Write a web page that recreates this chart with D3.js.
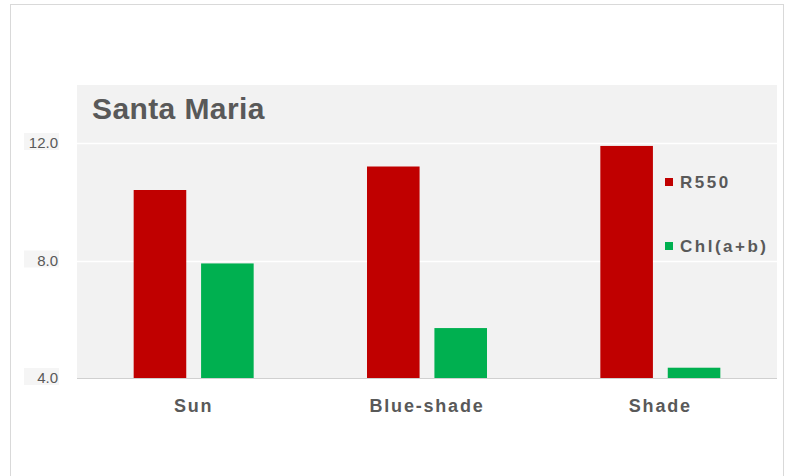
<!DOCTYPE html>
<html>
<head>
<meta charset="utf-8">
<script src="https://cdn.jsdelivr.net/npm/d3@7"></script>
<style>
  body { margin: 0; background: #fff; }
  text { font-family: "Liberation Sans", Arial, sans-serif; }
</style>
</head>
<body>
<div id="chart"></div>
<script>
// data
var categories = ["Sun", "Blue-shade", "Shade"];
var seriesNames = ["R550", "Chl(a+b)"];
var r550 = [10.4, 11.2, 11.9];
var chl = [7.9, 5.7, 4.35];
var tickValues = [4, 8, 12];

var colors = {"R550": "#c00000", "Chl(a+b)": "#00b050"};

var W = 787, H = 476;
var plot = {left: 77, right: 777, top: 85, bottom: 378};

var svg = d3.select("#chart")
    .append("svg")
    .attr("width", W)
    .attr("height", H);

// outer frame
svg.append("rect")
    .attr("x", 10.5).attr("y", 4.5)
    .attr("width", 773).attr("height", 500)
    .attr("fill", "#fff")
    .attr("stroke", "#d9d9d9");

// grey plot background
svg.append("rect")
    .attr("x", plot.left).attr("y", plot.top)
    .attr("width", plot.right - plot.left)
    .attr("height", plot.bottom - plot.top)
    .attr("fill", "#f2f2f2");

var x = d3.scaleBand()
    .domain(categories)
    .range([plot.left, plot.right]);

var x1 = d3.scaleBand()
    .domain(seriesNames)
    .range([0, 120])
    .paddingInner(0.22);

var y = d3.scaleLinear()
    .domain([4, 12])
    .range([plot.bottom, 143]);

// gridlines
svg.selectAll(".grid")
    .data(tickValues.filter(function(d){ return d > 4; }))
    .enter()
    .append("line")
    .attr("x1", plot.left).attr("x2", plot.right)
    .attr("y1", function(d){ return Math.round(y(d)) + 0.5; })
    .attr("y2", function(d){ return Math.round(y(d)) + 0.5; })
    .attr("stroke", "#ffffff")
    .attr("stroke-width", 1.5);

// tick labels with their faint grey boxes
var ticks = svg.selectAll(".tick")
    .data(tickValues)
    .enter()
    .append("g")
    .attr("transform", function(d){ return "translate(0," + y(d) + ")"; });

ticks.append("rect")
    .attr("x", 24).attr("y", -10)
    .attr("width", 35).attr("height", 17)
    .attr("fill", "#f5f5f5");

ticks.append("text")
    .attr("x", 58)
    .attr("y", 5)
    .attr("text-anchor", "end")
    .attr("fill", "#595959")
    .style("font-size", "15px")
    .text(function(d){ return d3.format(".1f")(d); });

// bars
var rows = categories.map(function(c, i){
    return {cat: c, values: [{name: "R550", v: r550[i]}, {name: "Chl(a+b)", v: chl[i]}]};
});

var groups = svg.selectAll(".grp")
    .data(rows)
    .enter()
    .append("g")
    .attr("transform", function(d){
        return "translate(" + (x(d.cat) + x.bandwidth() / 2 - 60) + ",0)";
    });

groups.selectAll("rect")
    .data(function(d){ return d.values; })
    .enter()
    .append("rect")
    .attr("x", function(d){ return x1(d.name); })
    .attr("width", x1.bandwidth())
    .attr("y", function(d){ return y(d.v); })
    .attr("height", function(d){ return y(4) - y(d.v); })
    .attr("fill", function(d){ return colors[d.name]; });

// baseline
svg.append("line")
    .attr("x1", plot.left).attr("x2", plot.right)
    .attr("y1", plot.bottom + 0.5).attr("y2", plot.bottom + 0.5)
    .attr("stroke", "#d0d0d0");

// category labels
svg.selectAll(".cat")
    .data(categories)
    .enter()
    .append("text")
    .attr("x", function(d){ return x(d) + x.bandwidth() / 2; })
    .attr("y", 412)
    .attr("text-anchor", "middle")
    .attr("fill", "#595959")
    .style("font-size", "18px")
    .style("font-weight", "bold")
    .style("letter-spacing", "1.8px")
    .text(function(d){ return d; });

// title
svg.append("text")
    .attr("x", 92)
    .attr("y", 119)
    .attr("fill", "#595959")
    .style("font-size", "30px")
    .style("font-weight", "bold")
    .style("letter-spacing", "0.4px")
    .text("Santa Maria");

// legend
var legend = svg.selectAll(".leg")
    .data(seriesNames)
    .enter()
    .append("g")
    .attr("transform", function(d, i){ return "translate(665," + (178 + i * 64) + ")"; });

legend.append("rect")
    .attr("width", 8).attr("height", 8)
    .attr("fill", function(d){ return colors[d]; });

legend.append("text")
    .attr("x", 15)
    .attr("y", 10)
    .attr("fill", "#595959")
    .style("font-size", "17px")
    .style("font-weight", "bold")
    .style("letter-spacing", "2.5px")
    .text(function(d){ return d; });
</script>
</body>
</html>
